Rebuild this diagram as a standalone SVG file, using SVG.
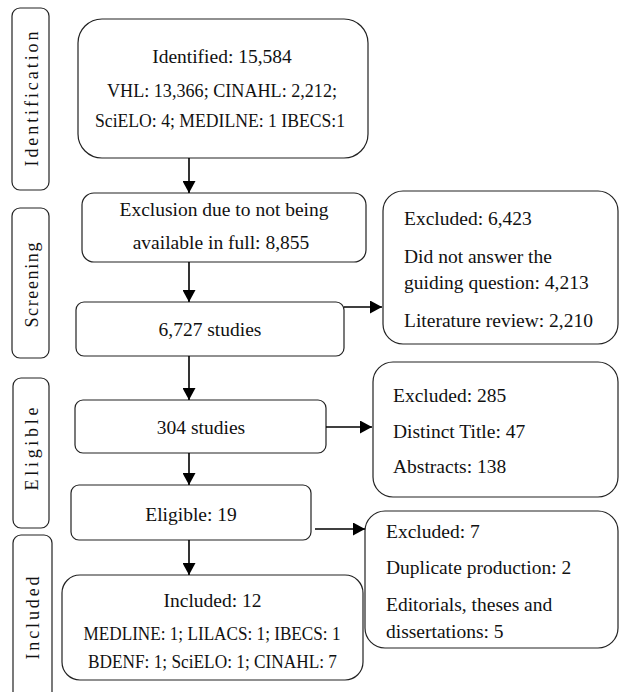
<svg xmlns="http://www.w3.org/2000/svg" width="620" height="692" viewBox="0 0 620 692">
<defs>
<marker id="ah" markerUnits="userSpaceOnUse" markerWidth="13" markerHeight="13" refX="12" refY="6.5" orient="auto">
<path d="M0,0 L12,6.5 L0,13 z" fill="#000"/>
</marker>
<style>
.box{fill:#fff;stroke:#222;stroke-width:1.2}
.t{font-family:"Liberation Serif","DejaVu Serif",serif;font-size:19.5px;fill:#111}
.c{text-anchor:middle}
.side{font-family:"Liberation Serif","DejaVu Serif",serif;font-size:18px;fill:#111;text-anchor:middle}
.conn{stroke:#000;stroke-width:1.6;fill:none;marker-end:url(#ah)}
</style>
</defs>
<rect width="620" height="692" fill="#fff"/>

<g id="phase-identification">
<rect class="box" x="12" y="8" width="37" height="182" rx="8"/>
<text class="side" x="38" y="99" transform="rotate(-90 38 99)" textLength="135">Identification</text>
</g>
<g id="phase-screening">
<rect class="box" x="12" y="208" width="37" height="150" rx="8"/>
<text class="side" x="38" y="285" transform="rotate(-90 38 285)" textLength="85">Screening</text>
</g>
<g id="phase-eligible">
<rect class="box" x="13" y="378" width="36" height="150" rx="8"/>
<text class="side" x="38" y="449" transform="rotate(-90 38 449)" textLength="83">Eligible</text>
</g>
<g id="phase-included">
<rect class="box" x="13" y="535" width="39" height="170" rx="8"/>
<text class="side" x="39" y="618" transform="rotate(-90 39 618)" textLength="83">Included</text>
</g>

<g id="identified">
<rect class="box" x="78" y="19" width="290" height="139" rx="24"/>
<text class="t c" x="222" y="63">Identified: 15,584</text>
<text class="t c" x="222" y="97" textLength="230" lengthAdjust="spacingAndGlyphs">VHL: 13,366; CINAHL: 2,212;</text>
<text class="t c" x="220" y="127" textLength="250" lengthAdjust="spacingAndGlyphs">SciELO: 4; MEDILNE: 1 IBECS:1</text>
</g>

<g id="exclusion-full">
<rect class="box" x="82" y="193" width="284" height="69" rx="12"/>
<text class="t c" x="224" y="216">Exclusion due to not being</text>
<text class="t c" x="221" y="249">available in full: 8,855</text>
</g>

<g id="studies-6727">
<rect class="box" x="76" y="302" width="268" height="54" rx="8"/>
<text class="t c" x="210" y="336">6,727 studies</text>
</g>

<g id="studies-304">
<rect class="box" x="75" y="400" width="251" height="53" rx="8"/>
<text class="t c" x="201" y="434">304 studies</text>
</g>

<g id="eligible-19">
<rect class="box" x="71" y="485" width="240" height="55" rx="8"/>
<text class="t c" x="191" y="521">Eligible: 19</text>
</g>

<g id="included-12">
<rect class="box" x="62" y="575" width="301" height="105" rx="18"/>
<text class="t c" x="212.5" y="607">Included: 12</text>
<text class="t c" x="212" y="640" textLength="257" lengthAdjust="spacingAndGlyphs">MEDLINE: 1; LILACS: 1; IBECS: 1</text>
<text class="t c" x="212.5" y="668" textLength="249" lengthAdjust="spacingAndGlyphs">BDENF: 1; SciELO: 1; CINAHL: 7</text>
</g>

<g id="excluded-6423">
<rect class="box" x="383" y="191" width="235" height="153" rx="20"/>
<text class="t" x="404" y="225">Excluded: 6,423</text>
<text class="t" x="404" y="263">Did not answer the</text>
<text class="t" x="404" y="289">guiding question: 4,213</text>
<text class="t" x="404" y="327">Literature review: 2,210</text>
</g>

<g id="excluded-285">
<rect class="box" x="373" y="362" width="245" height="135" rx="20"/>
<text class="t" x="393" y="402">Excluded: 285</text>
<text class="t" x="393" y="438">Distinct Title: 47</text>
<text class="t" x="393" y="473">Abstracts: 138</text>
</g>

<g id="excluded-7">
<rect class="box" x="365" y="511" width="253" height="137" rx="20"/>
<text class="t" x="386" y="538">Excluded: 7</text>
<text class="t" x="386" y="574">Duplicate production: 2</text>
<text class="t" x="386" y="611">Editorials, theses and</text>
<text class="t" x="386" y="638">dissertations: 5</text>
</g>

<g id="connectors">
<path class="conn" d="M189,158 V193"/>
<path class="conn" d="M189,262 V302"/>
<path class="conn" d="M189,356 V400"/>
<path class="conn" d="M189,453 V485"/>
<path class="conn" d="M189,540 V575"/>
<path class="conn" d="M344,307 H382"/>
<path class="conn" d="M326,427 H372"/>
<path class="conn" d="M315,529 H365"/>
</g>
</svg>
